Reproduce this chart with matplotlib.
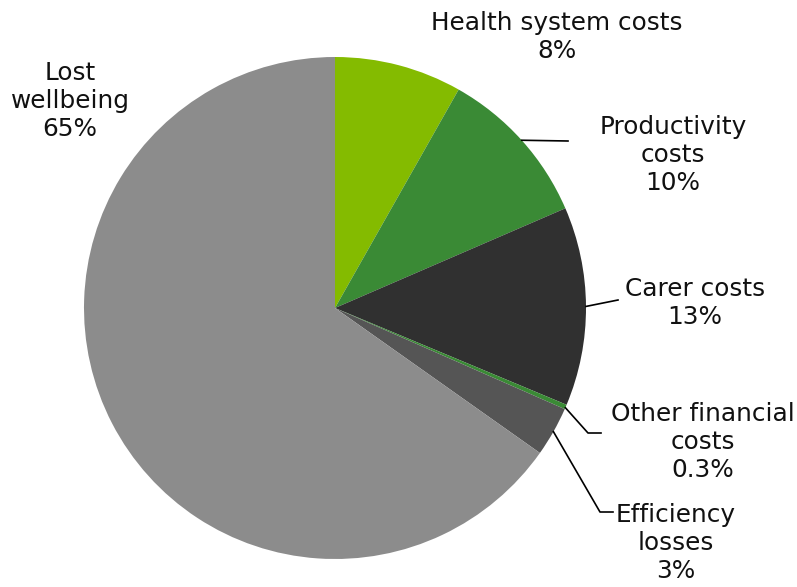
import numpy as np
import matplotlib.pyplot as plt

labels = ['Health system costs', 'Productivity\ncosts', 'Carer costs',
          'Other financial\ncosts', 'Efficiency\nlosses', 'Lost\nwellbeing']
shares = [8.2, 10.3, 12.8, 0.3, 3.2, 65.2]
pct_text = ['8%', '10%', '13%', '0.3%', '3%', '65%']
colors = ['#84bb00', '#3a8a35', '#303030', '#3a8a35', '#555555', '#8c8c8c']

W, H = 797, 587
cx, cy, R = 335, 308, 251

def px(x, y):
    # pixel position -> data coords (1 unit = pie radius)
    return (x - cx) / R, (cy - y) / R

fig = plt.figure(figsize=(W / 100, H / 100), dpi=100)
ax = fig.add_axes([0, 0, 1, 1])
ax.pie(shares, colors=colors, startangle=90, counterclock=False, radius=1,
       wedgeprops=dict(linewidth=0))
ax.set_xlim(-cx / R, (W - cx) / R)
ax.set_ylim(-(H - cy) / R, cy / R)
ax.set_aspect('auto')
ax.axis('off')

# label centres (pixels) and leader-line elbows
label_pos = [(557, 37), (673, 155), (695, 303), (703, 442), (676, 543), (70, 101)]
leaders = {1: [(568, 141)], 2: [(618, 300)],
           3: [(588, 433), (601, 433)], 4: [(600, 512), (613, 512)]}

cum = np.cumsum([0] + shares) / sum(shares)
for i, lab in enumerate(labels):
    x, y = px(*label_pos[i])
    ax.text(x, y, lab + '\n' + pct_text[i], ha='center', va='center',
            fontsize=17.8, linespacing=1.22, color='#111111')
    if i in leaders:
        if i == 3:
            frac = cum[i + 1] - 0.001
        else:
            frac = (cum[i] + cum[i + 1]) / 2
        ang = np.pi / 2 - 2 * np.pi * frac
        xs = [np.cos(ang)] + [px(*p)[0] for p in leaders[i]]
        ys = [np.sin(ang)] + [px(*p)[1] for p in leaders[i]]
        ax.plot(xs, ys, color='black', lw=1.2)

plt.savefig('out.png', dpi=100)
